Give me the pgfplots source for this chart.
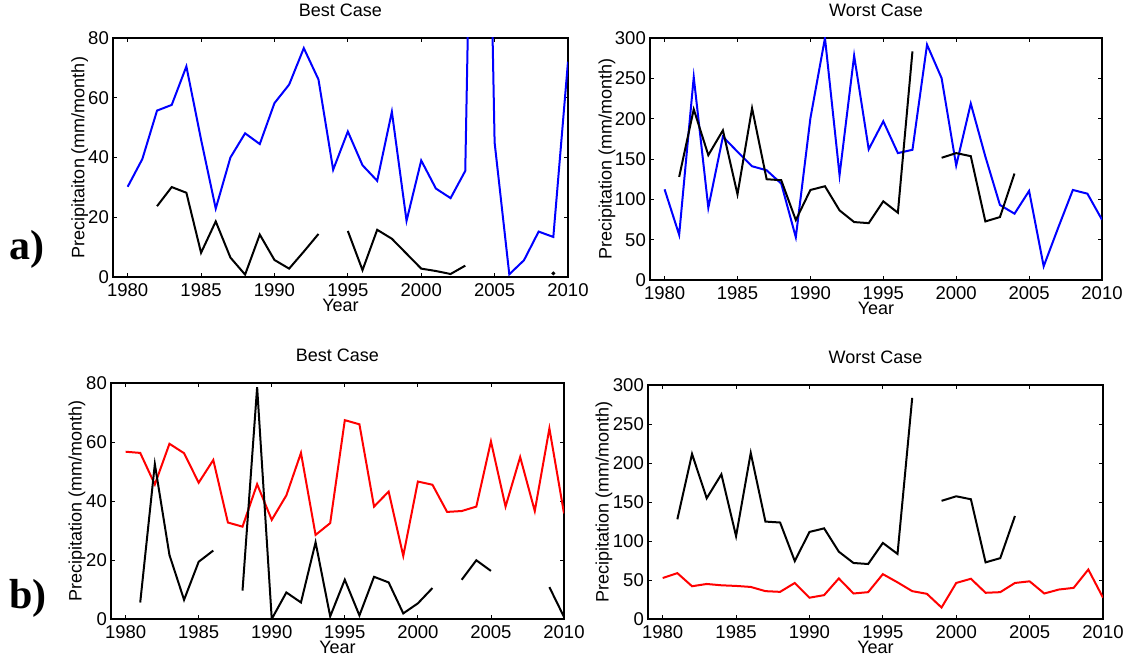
\documentclass[border=0pt]{standalone}
\usepackage{pgfplots}
\pgfplotsset{compat=1.18}
\usepackage{fontspec}
\setmainfont{Liberation Sans}
\newfontfamily\panelfont{Liberation Serif}

\definecolor{mblue}{RGB}{0,0,255}
\definecolor{mred}{RGB}{255,0,0}

\pgfplotsset{
  matstyle/.style={
    scale only axis,
    xmin=1979, xmax=2010,
    xtick={1980,1985,...,2010},
    tick align=inside,
    major tick length=4pt,
    axis line style={line width=1.1pt},
    major tick style={black, line width=0.8pt},
    tick label style={font=\fontsize{18.5}{21}\selectfont, inner sep=0pt},
    /pgf/number format/assume math mode=true,
    /pgf/number format/1000 sep={},
    xticklabel style={anchor=north, yshift=-6pt},
    yticklabel style={anchor=east, xshift=-4pt},
    label style={font=\fontsize{18}{20}\selectfont},
    xlabel={Year},
    xlabel style={at={(axis description cs:0.5,0)}, anchor=north, inner sep=0pt, yshift=-21.5pt},
    title style={font=\fontsize{18}{20}\selectfont, at={(axis description cs:0.5,1)}, anchor=base, yshift=15pt},
    unbounded coords=jump,
    every axis plot/.append style={line width=2pt},
  }
}

\begin{document}
\begin{tikzpicture}
\useasboundingbox (0,0) rectangle (1130pt,658pt);

% a) best case
\begin{axis}[matstyle,
  at={(113pt,381pt)}, width=455pt, height=239pt,
  ymin=0, ymax=80, ytick={0,20,...,80},
  title={Best Case},
  ylabel={Precipitaiton (mm/month)},
  ylabel style={at={(axis description cs:-0.073,0.5)}, anchor=center},
]
\addplot[mblue] coordinates {
  (1980,30.2)(1981,39.5)(1982,55.7)(1983,57.6)(1984,70.5)(1985,46)(1986,22.9)
  (1987,40)(1988,48.1)(1989,44.5)(1990,58.2)(1991,64.4)(1992,76.6)(1993,66.1)
  (1994,35.9)(1995,48.7)(1996,37.4)(1997,32.2)(1998,55.3)(1999,18.8)(2000,39)
  (2001,29.6)(2002,26.4)(2003,35.5)(2004,300)(2005,45)(2006,0.9)(2007,5.6)
  (2008,15.2)(2009,13.4)(2010,72.1)
};
\addplot[black] coordinates {
  (1982,23.7)(1983,30.1)(1984,28.2)(1985,8.1)(1986,18.6)(1987,6.5)(1988,0.8)
  (1989,14.2)(1990,5.7)(1991,2.8)(1992,8.5)(1993,14.4)(1994,nan)(1995,15.4)
  (1996,2.3)(1997,15.8)(1998,12.8)(1999,7.8)(2000,2.8)(2001,2)(2002,1.0)(2003,3.8)
};
\addplot[black, only marks, mark=*, mark size=0.7pt] coordinates {(2009,1.2)};
\end{axis}

% a) worst case
\begin{axis}[matstyle,
  at={(650pt,378pt)}, width=452pt, height=242pt,
  ymin=0, ymax=300, ytick={0,50,...,300},
  title={Worst Case},
  ylabel={Precipitation (mm/month)},
  ylabel style={at={(axis description cs:-0.095,0.5)}, anchor=center},
]
\addplot[mblue] coordinates {
  (1980,112.4)(1981,56)(1982,251.5)(1983,89.6)(1984,177.6)(1985,159)(1986,141)
  (1987,136)(1988,119.5)(1989,53)(1990,200.4)(1991,300)(1992,130)(1993,278)
  (1994,162)(1995,196.7)(1996,157.3)(1997,161.4)(1998,291.7)(1999,250.2)
  (2000,141.9)(2001,218.7)(2002,153)(2003,93)(2004,82.2)(2005,110.4)(2006,17)
  (2007,65)(2008,111.6)(2009,107)(2010,74.7)
};
\addplot[black] coordinates {
  (1981,127.8)(1982,211.6)(1983,154.8)(1984,185.5)(1985,106.2)(1986,212.9)
  (1987,124.9)(1988,123.7)(1989,74.3)(1990,111.6)(1991,116.2)(1992,86.3)
  (1993,71.8)(1994,70.5)(1995,97.5)(1996,83.4)(1997,283.4)(1998,nan)
  (1999,151.5)(2000,157.3)(2001,153.5)(2002,72.6)(2003,78)(2004,132)
};
\end{axis}

% b) best case
\begin{axis}[matstyle,
  at={(111pt,39pt)}, width=453pt, height=236pt,
  ymin=0, ymax=80, ytick={0,20,...,80},
  title={Best Case},
  ylabel={Precipitation (mm/month)},
  ylabel style={at={(axis description cs:-0.075,0.5)}, anchor=center},
]
\addplot[mred] coordinates {
  (1980,56.7)(1981,56.3)(1982,45.6)(1983,59.4)(1984,56.2)(1985,46.2)(1986,53.9)
  (1987,32.7)(1988,31.3)(1989,45.7)(1990,33.6)(1991,41.9)(1992,56.3)(1993,28.5)
  (1994,32.5)(1995,67.4)(1996,66)(1997,38.1)(1998,43.2)(1999,21.4)(2000,46.6)
  (2001,45.5)(2002,36.3)(2003,36.6)(2004,38.1)(2005,60.2)(2006,38.1)(2007,54.9)
  (2008,36.6)(2009,64.6)(2010,35.8)
};
\addplot[black] coordinates {
  (1981,5.6)(1982,52.5)(1983,21.7)(1984,6.5)(1985,19.4)(1986,23.2)(1987,nan)
  (1988,9.6)(1989,78.6)(1990,0)(1991,9)(1992,5.6)(1993,26)(1994,0.9)(1995,13.3)
  (1996,1.2)(1997,14.3)(1998,12.4)(1999,1.9)(2000,5.3)(2001,10.5)(2002,nan)
  (2003,13.3)(2004,19.9)(2005,16.3)(2006,nan)(2009,10.8)(2010,0.7)
};
\end{axis}

% b) worst case
\begin{axis}[matstyle,
  at={(648pt,39pt)}, width=455pt, height=234pt,
  ymin=0, ymax=300, ytick={0,50,...,300},
  title={Worst Case},
  ylabel={Precipitation (mm/month)},
  ylabel style={at={(axis description cs:-0.097,0.5)}, anchor=center},
]
\addplot[mred] coordinates {
  (1980,52.5)(1981,58.8)(1982,42)(1983,44.9)(1984,43.2)(1985,42.4)(1986,41.1)
  (1987,35.7)(1988,34.8)(1989,46.2)(1990,27.3)(1991,30.6)(1992,52)(1993,32.7)
  (1994,34.4)(1995,57.5)(1996,47)(1997,35.7)(1998,32.3)(1999,14.7)(2000,46.2)
  (2001,51.6)(2002,33.6)(2003,34.4)(2004,46.2)(2005,48.3)(2006,32.7)(2007,37.8)
  (2008,39.9)(2009,63.4)(2010,27.3)
};
\addplot[black] coordinates {
  (1981,127.8)(1982,211.6)(1983,154.8)(1984,185.5)(1985,106.2)(1986,212.9)
  (1987,124.9)(1988,123.7)(1989,74.3)(1990,111.6)(1991,116.2)(1992,86.3)
  (1993,71.8)(1994,70.5)(1995,97.5)(1996,83.4)(1997,283.4)(1998,nan)
  (1999,151.5)(2000,157.3)(2001,153.5)(2002,72.6)(2003,78)(2004,132)
};
\end{axis}

\node[anchor=base west, inner sep=0pt, font=\panelfont\bfseries\fontsize{42}{46}\selectfont] at (9pt,398pt) {a)};
\node[anchor=base west, inner sep=0pt, font=\panelfont\bfseries\fontsize{42}{46}\selectfont] at (9pt,49pt) {b)};
\end{tikzpicture}
\end{document}
